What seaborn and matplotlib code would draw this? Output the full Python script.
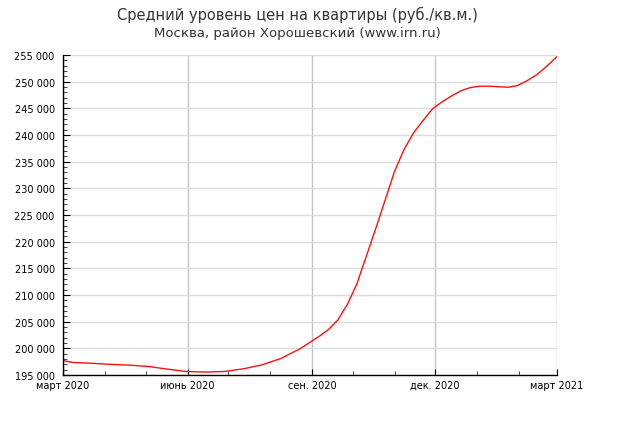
import matplotlib
matplotlib.use("Agg")
import matplotlib.pyplot as plt
import matplotlib.dates as mdates
import matplotlib.ticker as mticker
import seaborn as sns
import pandas as pd

# ---- data ----
dates = [
    "2020-03-01", "2020-03-08", "2020-03-22", "2020-04-05", "2020-04-19",
    "2020-05-03", "2020-05-17", "2020-05-31", "2020-06-14", "2020-06-28",
    "2020-07-12", "2020-07-26", "2020-08-09", "2020-08-23", "2020-09-06",
    "2020-09-13", "2020-09-20", "2020-09-27", "2020-10-04", "2020-10-11",
    "2020-10-18", "2020-10-25", "2020-11-01", "2020-11-08", "2020-11-15",
    "2020-11-22", "2020-11-29", "2020-12-06", "2020-12-13", "2020-12-20",
    "2020-12-27", "2021-01-03", "2021-01-10", "2021-01-17", "2021-01-24",
    "2021-01-31", "2021-02-07", "2021-02-14", "2021-02-21", "2021-03-01",
]
prices = [
    197700, 197350, 197200, 197000, 196850,
    196600, 196100, 195650, 195550, 195650,
    196150, 196900, 198100, 199900, 202200,
    203500, 205300, 208200, 212000, 217200,
    222400, 227800, 233200, 237300, 240400,
    242700, 244900, 246200, 247300, 248300,
    248900, 249150, 249150, 249050, 248950,
    249300, 250200, 251300, 252800, 254700,
]
x_tick_dates = ["2020-03-01", "2020-06-01", "2020-09-01", "2020-12-01", "2021-03-01"]
x_tick_labels = ["март 2020", "июнь 2020", "сен. 2020", "дек. 2020", "март 2021"]
y_ticks = [195000, 200000, 205000, 210000, 215000, 220000, 225000,
           230000, 235000, 240000, 245000, 250000, 255000]
title_line1 = "Средний уровень цен на квартиры (руб./кв.м.)"
title_line2 = "Москва, район Хорошевский (www.irn.ru)"

sns.set_style("white")
plt.rcParams['font.family'] = ['DejaVu Sans']

W, H = 620, 427
fig = plt.figure(figsize=(W / 100, H / 100), dpi=100)
fig.patch.set_facecolor("white")
ax = fig.add_axes([63 / W, 1 - 376 / H, (557 - 63) / W, (376 - 56) / H])

df = pd.DataFrame({"date": pd.to_datetime(dates), "price": prices})
sns.lineplot(data=df, x="date", y="price", ax=ax, color="#ff1010", linewidth=1.0)

ax.set_xlim(pd.Timestamp("2020-03-01"), pd.Timestamp("2021-03-01"))
ax.set_ylim(y_ticks[0], y_ticks[-1])
ax.set_yticks(y_ticks)
ax.yaxis.set_major_formatter(mticker.FuncFormatter(lambda v, p: f"{int(v):,}".replace(",", " ")))
ax.yaxis.set_minor_locator(mticker.MultipleLocator(1000))
ax.set_xticks(pd.to_datetime(x_tick_dates))
ax.set_xticklabels(x_tick_labels)
ax.xaxis.set_minor_locator(mdates.MonthLocator())
ax.set_xlabel("")
ax.set_ylabel("")

ax.grid(False)
ax.grid(axis="y", which="major", color="#dcdcdc", linewidth=1.0)
ax.grid(axis="x", which="major", color="#c4c4c4", linewidth=1.0)
ax.set_axisbelow(True)

for s in ["top", "right"]:
    ax.spines[s].set_visible(False)
for s in ["left", "bottom"]:
    ax.spines[s].set_color("black")
    ax.spines[s].set_linewidth(1.0)

ax.tick_params(axis="y", which="major", direction="in", length=5, width=0.8,
               labelsize=7, pad=6, colors="black", left=True)
ax.tick_params(axis="y", which="minor", direction="in", length=3, width=0.6, left=True)
ax.tick_params(axis="x", which="major", direction="in", length=4, width=0.8,
               labelsize=7, pad=3.5, colors="black", bottom=True)
ax.tick_params(axis="x", which="minor", direction="in", length=3, width=0.6, bottom=True)

fig.text(297 / W, 1 - 15 / H, title_line1, ha="center", va="center",
         fontsize=10.5, color="#333333")
fig.text(297 / W, 1 - 34 / H, title_line2, ha="center", va="center",
         fontsize=9.5, color="#333333")

fig.savefig("out.png", dpi=100, facecolor="white")
